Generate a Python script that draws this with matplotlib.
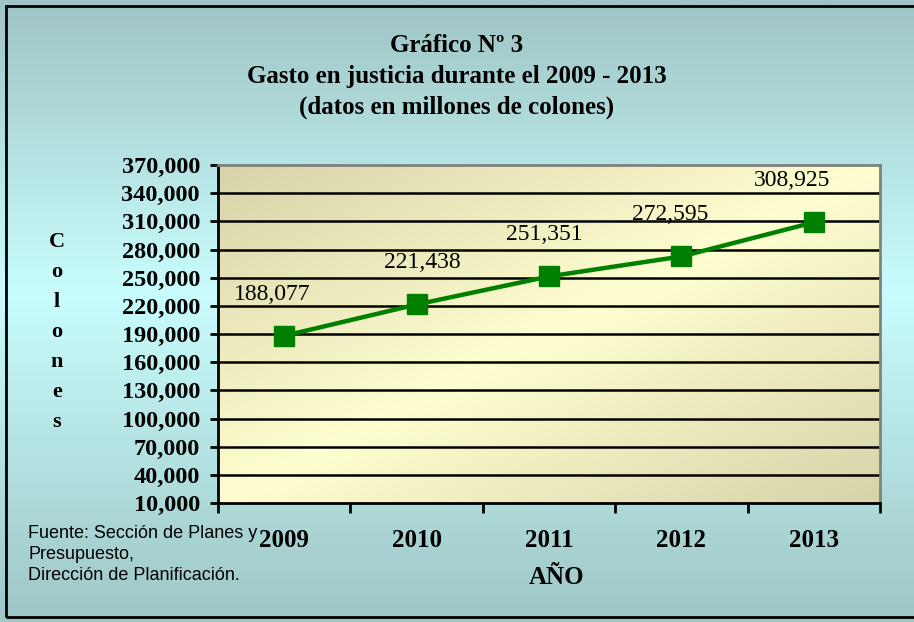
import numpy as np
import matplotlib
matplotlib.use("Agg")
import matplotlib.pyplot as plt
from matplotlib.colors import LinearSegmentedColormap
from matplotlib.patches import Rectangle

# data
years = ["2009", "2010", "2011", "2012", "2013"]
gasto = [188077, 221438, 251351, 272595, 308925]
y_ticks = list(range(10000, 370001, 30000))
label_nudge_px = [-12, 6, -5, -11, -22]   # Excel labels sit a bit off-centre

SERIF = ["Liberation Serif", "DejaVu Serif"]
SANS = ["Liberation Sans", "DejaVu Sans"]
GREEN = "#008000"

W, H, DPI = 914, 622, 100
fig = plt.figure(figsize=(W / DPI, H / DPI), dpi=DPI)

# ---- outer background: vertical teal gradient, lightest in the middle
bg = fig.add_axes([0, 0, 1, 1], zorder=-10)
bg_cmap = LinearSegmentedColormap.from_list(
    "bg", [(0.0, "#9fc4c4"), (0.47, "#c9fdfd"), (1.0, "#9fc6c6")])
grad = np.linspace(0, 1, 256).reshape(-1, 1)
bg.imshow(grad, aspect="auto", cmap=bg_cmap, extent=[0, 1, 0, 1], origin="upper")
bg.add_patch(Rectangle((6 / W, 5 / H), 1.0, 1 - 11 / H, fill=False,
                       ec="black", lw=2.0, transform=bg.transAxes))
bg.set_xlim(0, 1)
bg.set_ylim(0, 1)
bg.axis("off")

# ---- plot area
x0, x1, y0, y1 = 218 / W, 880 / W, 1 - 503 / H, 1 - 165 / H
ax = fig.add_axes([x0, y0, x1 - x0, y1 - y0])
ax.set_xlim(-0.5, 4.5)
ax.set_ylim(y_ticks[0], y_ticks[-1])

# diagonal khaki gradient: dark at top-left / bottom-right, light across the middle
pa_cmap = LinearSegmentedColormap.from_list("pa", ["#fffed0", "#d4d1a6"])
gx, gy = np.meshgrid(np.linspace(0, 1, 200), np.linspace(1, 0, 200))
u = (gx + (1 - gy)) / 2.0
shade = np.abs(u - 0.5) * 2.0
ax.imshow(shade, aspect="auto", cmap=pa_cmap, vmin=0, vmax=1.05,
          extent=[-0.5, 4.5, y_ticks[0], y_ticks[-1]], zorder=0)

for v in y_ticks[1:-1]:
    ax.axhline(v, color="black", lw=1.8, zorder=1)

xs = np.arange(len(years))
ax.plot(xs, gasto, color=GREEN, lw=3.2, marker="s", markersize=14,
        markerfacecolor=GREEN, markeredgecolor=GREEN, zorder=3)

for xi, v, nud in zip(xs, gasto, label_nudge_px):
    ax.annotate(f"{v:,}", (xi, v), xytext=(nud * 0.72, 30), textcoords="offset points",
                ha="center", va="center", fontsize=17, family=SERIF, zorder=4)

# axes styling
for side in ("top", "right"):
    ax.spines[side].set_color("#808080")
    ax.spines[side].set_linewidth(2)
for side in ("left", "bottom"):
    ax.spines[side].set_color("black")
    ax.spines[side].set_linewidth(2)

ax.set_yticks(y_ticks)
ax.set_yticklabels([f"{v:,}" for v in y_ticks], family=SERIF, fontweight="bold",
                   fontsize=17.5)
ax.tick_params(axis="y", direction="out", length=6, width=2, pad=7)

ax.set_xticks(np.arange(-0.5, 5.0, 1.0))
ax.set_xticklabels([])
ax.tick_params(axis="x", direction="out", length=7, width=2)
for xi, yr in zip(xs, years):
    ax.text(xi, -0.11, yr, transform=ax.get_xaxis_transform(), ha="center",
            va="center", family=SERIF, fontweight="bold", fontsize=18)

# ---- titles and labels
titles = ["Gráfico Nº 3", "Gasto en justicia durante el 2009 - 2013",
          "(datos en millones de colones)"]
for i, t in enumerate(titles):
    fig.text(457 / W, 1 - (45 + 31 * i) / H, t, ha="center", va="center",
             family=SERIF, fontweight="bold", fontsize=18)

for i, ch in enumerate("Colones"):
    fig.text(57 / W, 1 - (242 + 30 * i) / H, ch, ha="center", va="center",
             family=SERIF, fontweight="bold", fontsize=16)

fig.text(557 / W, 1 - 578 / H, "AÑO", ha="center", va="center",
         family=SERIF, fontweight="bold", fontsize=18)

fig.text(28 / W, 1 - 525 / H,
         "Fuente: Sección de Planes y\nPresupuesto,\nDirección de Planificación.",
         ha="left", va="top", family=SANS, fontsize=13, linespacing=1.3)

fig.savefig("out.png", dpi=DPI)
